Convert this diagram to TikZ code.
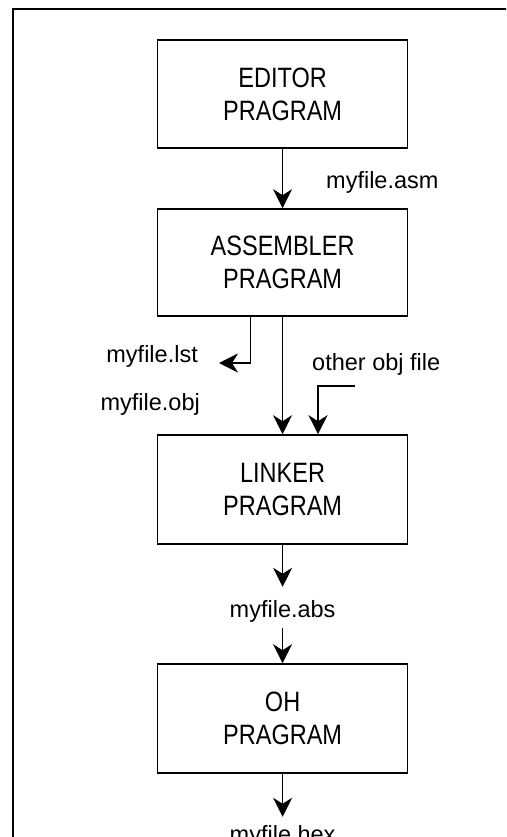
\documentclass[tikz,border=0pt]{standalone}
\usepackage{fontspec}
\setmainfont{Liberation Sans}
\newfontfamily\boxfont[FakeStretch=0.84]{Liberation Sans}
\usetikzlibrary{arrows.meta}
\tikzset{
  prog/.style={draw, line width=1.6pt, minimum width=250pt, minimum height=108pt,
    inner sep=0pt, align=center, font=\boxfont\fontsize{28}{33}\selectfont},
  fname/.style={inner sep=0pt, font=\fontsize{23.5}{28}\selectfont},
  flow/.style={draw, line width=1.6pt, -{Stealth[length=19pt,width=19pt,inset=6pt]}},
  frame/.style={draw, line width=1.8pt}
}
\begin{document}
\begin{tikzpicture}[x=1pt, y=-1pt]
  \useasboundingbox (0,0) rectangle (506,837);
  \clip (0,0) rectangle (506,837);
  % outer frame, running past the page edge on the right and bottom
  \draw[frame] (13.3,9.3) rectangle (540,880);

  % program boxes
  \node[prog] (ed)  at (282.6,94)    {EDITOR\\PRAGRAM};
  \node[prog, minimum height=107pt] (asm) at (282.6,262.5) {ASSEMBLER\\PRAGRAM};
  \node[prog, minimum height=109pt] (lk)  at (282.6,489.5) {LINKER\\PRAGRAM};
  \node[prog, minimum height=109pt] (oh)  at (282.6,718.5) {OH\\PRAGRAM};

  % file names
  \node[fname, anchor=base west] (fasm) at (326,188) {myfile.asm};
  \node[fname, anchor=base east] (flst) at (198,362) {myfile.lst};
  \node[fname, anchor=base east] (fobj) at (200,410) {myfile.obj};
  \node[fname, anchor=base west] (foth) at (312,370) {other obj file};
  \node[fname, anchor=base] (fabs) at (282.6,617) {myfile.abs};
  \node[fname, anchor=base] (fhex) at (282.6,842) {myfile.hex};

  \coordinate (lstend) at (219,363);
  \coordinate (othstart) at (355,386);

  % connectors
  \draw[flow] (ed) -- (asm);
  \draw[flow] ([xshift=-32pt]asm.south) |- (lstend);
  \draw[flow] (asm) -- (lk);
  \draw[flow] (othstart) -| ([xshift=35.4pt]lk.north);
  \draw[flow] (lk) -- ([yshift=13pt]fabs.north);
  \draw[flow] ([yshift=-6pt]fabs.south) -- (oh);
  \draw[flow] (oh) -- ([yshift=8pt]fhex.north);
\end{tikzpicture}
\end{document}
